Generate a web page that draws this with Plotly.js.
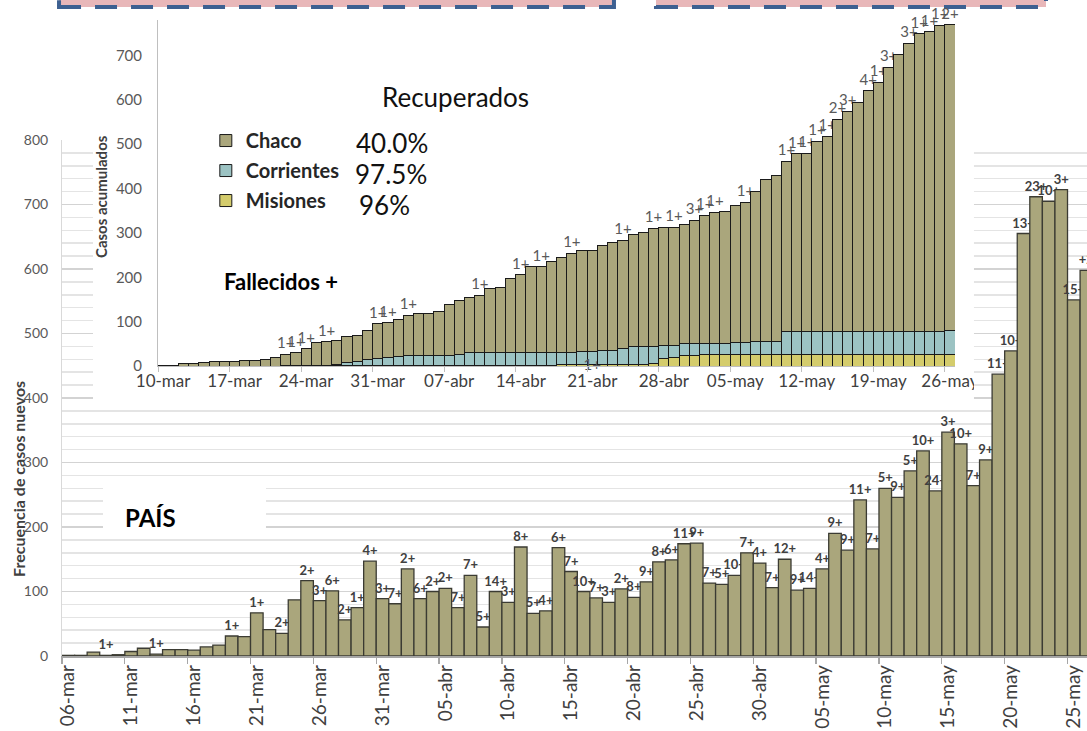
<!DOCTYPE html>
<html>
<head>
<meta charset="utf-8">
<script src="https://cdn.plot.ly/plotly-3.0.1.min.js"></script>
<style>
html,body{margin:0;padding:0;background:#fff;overflow:hidden;}
#main{position:absolute;left:0;top:0;width:1087px;height:731px;}
#inset{position:absolute;left:93px;top:0px;width:881px;height:404px;}
</style>
</head>
<body>
<div id="main"></div>
<div id="inset"></div>
<script>
// ---------- DATA: main chart (país, casos nuevos diarios) ----------
const mainDates = [
 '06-mar','07-mar','08-mar','09-mar','10-mar','11-mar','12-mar','13-mar','14-mar','15-mar',
 '16-mar','17-mar','18-mar','19-mar','20-mar','21-mar','22-mar','23-mar','24-mar','25-mar',
 '26-mar','27-mar','28-mar','29-mar','30-mar','31-mar',
 '01-abr','02-abr','03-abr','04-abr','05-abr','06-abr','07-abr','08-abr','09-abr','10-abr',
 '11-abr','12-abr','13-abr','14-abr','15-abr','16-abr','17-abr','18-abr','19-abr','20-abr',
 '21-abr','22-abr','23-abr','24-abr','25-abr','26-abr','27-abr','28-abr','29-abr','30-abr',
 '01-may','02-may','03-may','04-may','05-may','06-may','07-may','08-may','09-may','10-may',
 '11-may','12-may','13-may','14-may','15-may','16-may','17-may','18-may','19-may','20-may',
 '21-may','22-may','23-may','24-may','25-may','26-may'
];
const mainCases = [
 1,1,6,1,2,7,12,3,10,10,
 9,14,17,31,30,67,41,35,87,117,
 86,101,56,75,147,89,
 81,135,89,100,105,75,125,45,100,83,
 169,66,70,168,131,100,90,83,104,91,
 115,146,149,174,175,113,111,125,160,144,
 106,150,102,105,135,190,164,242,166,260,
 246,287,318,256,347,329,264,304,437,473,
 655,712,705,723,552,598
];
const mainDeaths = [
 '','','','1+','','','','1+','','',
 '','','','1+','','1+','','2+','','2+',
 '3+','6+','2+','1+','4+','3+',
 '7+','2+','6+','2+','2+','7+','7+','5+','14+','3+',
 '8+','5+','4+','6+','7+','10+','7+','3+','2+','8+',
 '9+','8+','6+','11+','9+','7+','5+','10+','7+','4+',
 '7+','12+','9+','14+','4+','9+','9+','11+','7+','5+',
 '9+','5+','10+','24+','3+','10+','7+','9+','11+','10+',
 '13+','23+','10+','3+','15+','+2'
];

// ---------- DATA: inset (casos acumulados por provincia) ----------
const insetDates = mainDates.slice(4); // 10-mar ... 26-may
const chaco = [
 1,1,5,5,7,10,11,11,13,13,
 15,19,26,29,38,51,54,54,58,58,
 67,78,78,84,90,95,95,99,114,122,
 125,130,145,148,167,176,194,194,206,215,
 224,228,229,238,244,245,251,256,265,265,
 266,268,279,290,297,299,309,317,339,366,
 375,384,400,402,429,440,478,496,517,542,
 562,596,625,650,671,676,690,689
];
const corrientes = [
 0,0,0,0,0,0,0,0,0,0,
 0,0,0,0,0,0,0,3,7,9,
 13,16,18,20,23,23,23,23,23,25,
 29,29,29,29,29,29,29,29,29,26,
 26,28,28,30,30,35,41,41,39,31,
 27,26,26,23,23,23,25,25,28,28,
 28,51,51,51,51,51,51,51,51,51,
 51,51,51,51,51,51,51,53
];
const misiones = [
 0,0,0,0,0,0,0,0,0,0,
 0,0,1,1,1,1,1,1,1,1,
 1,1,1,1,1,1,1,1,1,1,
 1,1,1,1,1,1,1,1,1,4,
 4,4,4,4,4,4,4,4,6,16,
 20,24,24,27,27,27,27,27,27,27,
 27,27,27,27,27,27,27,27,27,27,
 27,27,27,27,27,27,27,27
];
const chacoDeaths = [
 '','','','','','','','','','',
 '','','1+','1+','1+','','1+','','','',
 '','1+','1+','','1+','','','','','',
 '','1+','','','','1+','','1+','','',
 '1+','','','','','1+','','','1+','',
 '1+','','3+','1+','1+','','','1+','','',
 '','1+','1+','1+','1+','1+','2+','3+','','4+',
 '1+','3+','','3+','1+','1+','1+','2+'
];
const corrientesDeaths = insetDates.map((d,i)=> i===42 ? '1+' : '');
const legendNames = ['Chaco','Corrientes','Misiones'];
const recoveredPct = ['40.0%','97.5%','96%'];

// ---------- MAIN CHART ----------
const FONT = 'Lato, "Open Sans", sans-serif';
const mainTrace = {
  type:'bar', x:mainDates, y:mainCases, text:mainDeaths,
  textposition:'outside', constraintext:'none', cliponaxis:true,
  textfont:{family:FONT, size:13, color:'#404040', weight:700},
  marker:{color:'#aaa67c', line:{color:'#3b3b33', width:1.3}},
  hoverinfo:'skip', showlegend:false
};
const mainLayout = {
  width:1087, height:731,
  margin:{l:62, r:0, t:140, b:75},
  paper_bgcolor:'#ffffff', plot_bgcolor:'#ffffff',
  font:{family:FONT, color:'#404040'},
  bargap:0, showlegend:false,
  xaxis:{
    type:'category', range:[-0.5, 81.05],
    tickmode:'linear', tick0:0, dtick:5, tickson:'boundaries',
    ticks:'outside', ticklen:6, tickcolor:'#a6a6a6', tickwidth:1.3,
    tickangle:-90, tickfont:{family:FONT, size:19, color:'#404040'},
    showline:true, linecolor:'#a6a6a6', linewidth:1.5, showgrid:false, zeroline:false
  },
  yaxis:{
    range:[0,800], tickmode:'linear', tick0:0, dtick:100,
    tickfont:{family:FONT, size:14, color:'#595959'}, ticklabelstandoff:10,
    showgrid:true, gridcolor:'#d3d3d3', gridwidth:1.5,
    minor:{dtick:20, showgrid:true, gridcolor:'#e4e4e4', gridwidth:1.5},
    zeroline:false, showline:true, linecolor:'#d9d9d9', ticks:''
  },
  shapes:[
    {type:'rect', xref:'paper', yref:'paper', x0:0.04, x1:0.199, y0:0.236, y1:0.333,
     fillcolor:'#ffffff', line:{width:0}, layer:'above'},
    {type:'rect', xref:'paper', yref:'paper', x0:-0.0029, x1:0.5385, y0:1.2578, y1:1.34,
     fillcolor:'#e8b7b9', line:{color:'#3d6091', width:4, dash:'22px,14px'}, layer:'above'},
    {type:'rect', xref:'paper', yref:'paper', x0:0.5795, x1:0.96, y0:1.2578, y1:1.34,
     fillcolor:'#e8b7b9', line:{color:'#3d6091', width:4, dash:'22px,14px'}, layer:'above'}
  ],
  annotations:[
    {xref:'paper', yref:'paper', x:-0.043, y:0.343, text:'<b>Frecuencia de casos nuevos</b>',
     textangle:-90, showarrow:false, xanchor:'center', yanchor:'middle',
     font:{family:FONT, size:16, color:'#404040'}},
    {xref:'paper', yref:'paper', x:0.0859, y:0.269, text:'<b>PAÍS</b>', showarrow:false,
     xanchor:'center', yanchor:'middle', font:{family:FONT, size:24, color:'#000000'}}
  ]
};
Plotly.newPlot('main', [mainTrace], mainLayout, {displayModeBar:false, staticPlot:true});

// ---------- INSET CHART ----------
const insetColors = {Chaco:'#aaa67c', Corrientes:'#9cc3c3', Misiones:'#d4cc6c'};
const misTrace = {
  type:'bar', name:legendNames[2], x:insetDates, y:misiones, legendgroup:'m', legendrank:3,
  marker:{color:insetColors.Misiones, line:{color:'#1a1a1a', width:1}},
  hoverinfo:'skip', cliponaxis:false
};
const corTrace = {
  type:'bar', name:legendNames[1], x:insetDates, y:corrientes, legendgroup:'co', legendrank:2,
  text:corrientesDeaths, textposition:'inside', insidetextanchor:'end', constraintext:'none',
  textfont:{family:FONT, size:15, color:'#595959'},
  marker:{color:insetColors.Corrientes, line:{color:'#1a1a1a', width:1}},
  hoverinfo:'skip', cliponaxis:false
};
const chaTrace = {
  type:'bar', name:legendNames[0], x:insetDates, y:chaco, legendgroup:'ch', legendrank:1,
  text:chacoDeaths, textposition:'outside', constraintext:'none',
  textfont:{family:FONT, size:15, color:'#595959'},
  marker:{color:insetColors.Chaco, line:{color:'#1a1a1a', width:1}},
  hoverinfo:'skip', cliponaxis:false
};
const insetLayout = {
  width:881, height:404,
  margin:{l:65, r:19, t:20, b:38},
  paper_bgcolor:'rgba(0,0,0,0)', plot_bgcolor:'rgba(0,0,0,0)',
  font:{family:FONT, color:'#404040'},
  barmode:'stack', bargap:0,
  xaxis:{
    type:'category', range:[-0.5, 77.5],
    tickmode:'linear', tick0:0, dtick:7, tickson:'boundaries',
    ticks:'outside', ticklen:5, tickcolor:'#bfbfbf', tickangle:0,
    tickfont:{family:FONT, size:17, color:'#404040'},
    showline:true, linecolor:'#bfbfbf', showgrid:false, zeroline:false
  },
  yaxis:{
    range:[0,780], tickmode:'linear', tick0:0, dtick:100,
    tickfont:{family:FONT, size:15, color:'#595959'}, ticklabelstandoff:12,
    showgrid:false, zeroline:false, showline:true, linecolor:'#bfbfbf', ticks:''
  },
  shapes:[
    {type:'rect', xref:'paper', yref:'paper', x0:-0.0816, x1:1.0238, y0:-0.1098, y1:1.0231,
     fillcolor:'#ffffff', line:{width:0}, layer:'below'}
  ],
  showlegend:true,
  legend:{
    x:0.06, y:0.708, xanchor:'left', yanchor:'top',
    traceorder:'grouped', tracegroupgap:1,
    bgcolor:'rgba(0,0,0,0)', borderwidth:0,
    font:{family:FONT, size:20, color:'#262626', weight:700}
  },
  annotations:[
    {xref:'paper', yref:'paper', x:0.3727, y:0.7775, text:'Recuperados', showarrow:false,
     xanchor:'center', yanchor:'middle', font:{family:FONT, size:26, color:'#111111'}},
    {xref:'paper', yref:'paper', x:0.246, y:0.6445, text:recoveredPct[0], showarrow:false,
     xanchor:'left', yanchor:'middle', font:{family:FONT, size:26, color:'#111111'}},
    {xref:'paper', yref:'paper', x:0.2447, y:0.5549, text:recoveredPct[1], showarrow:false,
     xanchor:'left', yanchor:'middle', font:{family:FONT, size:26, color:'#111111'}},
    {xref:'paper', yref:'paper', x:0.2497, y:0.4653, text:recoveredPct[2], showarrow:false,
     xanchor:'left', yanchor:'middle', font:{family:FONT, size:26, color:'#111111'}},
    {xref:'paper', yref:'paper', x:0.0803, y:0.2428, text:'<b>Fallecidos +</b>', showarrow:false,
     xanchor:'left', yanchor:'middle', font:{family:FONT, size:22, color:'#000000'}},
    {xref:'paper', yref:'paper', x:-0.0715, y:0.4884, text:'<b>Casos acumulados</b>', textangle:-90,
     showarrow:false, xanchor:'center', yanchor:'middle',
     font:{family:FONT, size:15, color:'#404040'}}
  ]
};
Plotly.newPlot('inset', [misTrace, corTrace, chaTrace], insetLayout, {displayModeBar:false, staticPlot:true});
</script>
</body>
</html>
